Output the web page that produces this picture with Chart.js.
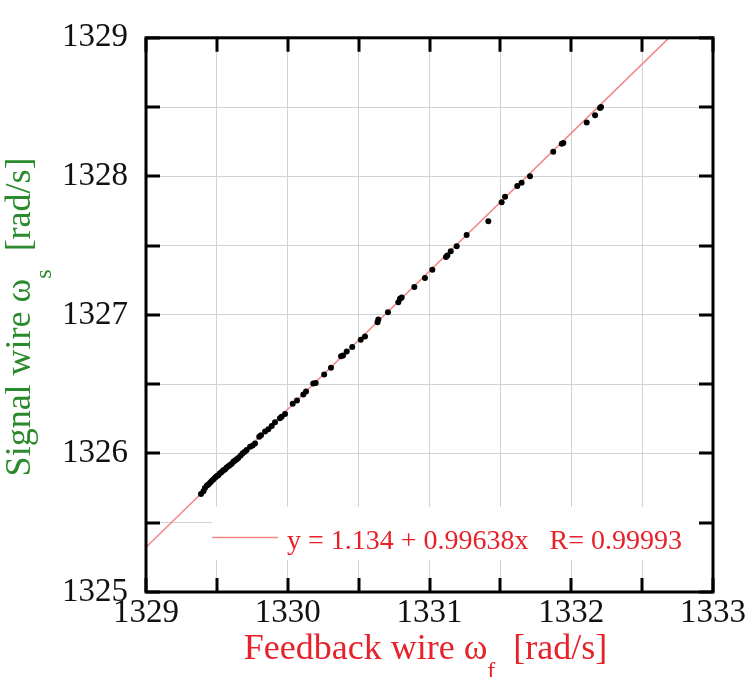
<!DOCTYPE html>
<html>
<head>
<meta charset="utf-8">
<script src="https://cdn.jsdelivr.net/npm/chart.js@4.4.1/dist/chart.umd.min.js"></script>
<style>
    html, body { margin: 0; padding: 0; background: #fff; }
    #wrap { width: 749px; height: 677px; }
</style>
</head>
<body>
<div id="wrap"><canvas id="myChart" width="749" height="677"></canvas></div>
<script>
// measured points: feedback wire (x) vs signal wire (y), rad/s
const feedbackW = [
    1329.388, 1329.405, 1329.416, 1329.430, 1329.440, 1329.452, 1329.463, 1329.475,
    1329.487, 1329.498, 1329.510, 1329.522, 1329.534, 1329.545, 1329.557, 1329.569,
    1329.581, 1329.593, 1329.605, 1329.616, 1329.628, 1329.640, 1329.651, 1329.668,
    1329.682, 1329.697, 1329.710, 1329.734, 1329.752, 1329.769, 1329.799, 1329.811,
    1329.840, 1329.863, 1329.887, 1329.910, 1329.945, 1329.957, 1329.981, 1330.035,
    1330.065, 1330.110, 1330.129, 1330.180, 1330.197, 1330.257, 1330.305, 1330.376,
    1330.390, 1330.416, 1330.455, 1330.515, 1330.545, 1330.633, 1330.639, 1330.707,
    1330.780, 1330.792, 1330.804, 1330.893, 1330.968, 1331.020, 1331.116, 1331.126,
    1331.150, 1331.192, 1331.262, 1331.415, 1331.509, 1331.533, 1331.619, 1331.650,
    1331.709, 1331.873, 1331.933, 1331.944, 1332.109, 1332.168, 1332.203, 1332.210
];
const signalW = [
    1325.708, 1325.728, 1325.750, 1325.768, 1325.776, 1325.789, 1325.802, 1325.812,
    1325.825, 1325.836, 1325.842, 1325.857, 1325.866, 1325.879, 1325.884, 1325.899,
    1325.908, 1325.917, 1325.926, 1325.940, 1325.949, 1325.958, 1325.967, 1325.985,
    1326.002, 1326.012, 1326.025, 1326.049, 1326.058, 1326.072, 1326.120, 1326.131,
    1326.159, 1326.175, 1326.198, 1326.225, 1326.254, 1326.265, 1326.284, 1326.359,
    1326.383, 1326.425, 1326.448, 1326.505, 1326.508, 1326.569, 1326.619, 1326.702,
    1326.707, 1326.735, 1326.769, 1326.820, 1326.845, 1326.947, 1326.966, 1327.020,
    1327.092, 1327.116, 1327.126, 1327.201, 1327.267, 1327.326, 1327.417, 1327.429,
    1327.460, 1327.495, 1327.577, 1327.676, 1327.813, 1327.852, 1327.930, 1327.954,
    1328.000, 1328.177, 1328.236, 1328.240, 1328.388, 1328.441, 1328.494, 1328.501
];
const xLimits = [1329, 1333];
const yLimits = [1325, 1329];
const tickStep = 0.5;
const fitIntercept = 1.134;
const fitSlope = 0.99638;
const fitText = "y = 1.134 + 0.99638x   R= 0.99993";

const SERIF = "'Liberation Serif', 'Times New Roman', serif";
const RED = "#e62129";
const GREEN = "#2b8a2b";
const FIT_COLOR = "rgb(242, 135, 135)";

var fitLine = xLimits.map(v => ({ x: v, y: fitIntercept + fitSlope * v }));
var points = feedbackW.map((v, i) => ({ x: v, y: signalW[i] }));

// draws text pieces in a row, some of them lowered as subscripts
function drawParts(ctx, parts, cx, baseY) {
    let total = 0;
    for (let p of parts) {
        ctx.font = p.size + "px " + SERIF;
        p.w = ctx.measureText(p.text).width;
        total += p.w;
    }
    let x = cx - total / 2;
    for (let p of parts) {
        ctx.font = p.size + "px " + SERIF;
        ctx.fillText(p.text, x, baseY + (p.dy || 0));
        x += p.w;
    }
}

const framePlugin = {
    id: "frame",
    beforeDatasetsDraw(chart) {
        const { ctx, chartArea: a } = chart;
        ctx.save();
        // legend box sits over the grid
        ctx.fillStyle = "#fff";
        ctx.fillRect(a.left + 66, a.bottom - 85, 488, 53);
        ctx.strokeStyle = FIT_COLOR;
        ctx.lineWidth = 1.6;
        ctx.beginPath();
        ctx.moveTo(a.left + 66, a.bottom - 54.5);
        ctx.lineTo(a.left + 132, a.bottom - 54.5);
        ctx.stroke();
        ctx.fillStyle = RED;
        ctx.font = "28px " + SERIF;
        ctx.textAlign = "left";
        ctx.textBaseline = "alphabetic";
        ctx.fillText(fitText, a.left + 141, a.bottom - 43);
        ctx.restore();
    },
    afterDatasetsDraw(chart) {
        const { ctx, chartArea: a, scales } = chart;
        const tl = 14;
        ctx.save();
        ctx.strokeStyle = "#000";
        ctx.lineWidth = 3;
        ctx.beginPath();
        for (let t of scales.x.ticks) {
            let px = Math.round(scales.x.getPixelForValue(t.value));
            ctx.moveTo(px, a.bottom); ctx.lineTo(px, a.bottom - tl);
            ctx.moveTo(px, a.top); ctx.lineTo(px, a.top + tl);
        }
        for (let t of scales.y.ticks) {
            let py = Math.round(scales.y.getPixelForValue(t.value));
            ctx.moveTo(a.left, py); ctx.lineTo(a.left + tl, py);
            ctx.moveTo(a.right, py); ctx.lineTo(a.right - tl, py);
        }
        ctx.stroke();
        ctx.strokeRect(a.left, a.top, a.right - a.left, a.bottom - a.top);
        ctx.restore();
    },
    afterDraw(chart) {
        const { ctx, chartArea: a } = chart;
        ctx.save();
        ctx.textAlign = "left";
        ctx.textBaseline = "alphabetic";
        ctx.fillStyle = RED;
        drawParts(ctx, [
            { text: "Feedback wire \u03C9", size: 36 },
            { text: "f", size: 24, dy: 19 },
            { text: "  [rad/s]", size: 36 }
        ], (a.left + a.right) / 2 - 4, 659);
        ctx.fillStyle = GREEN;
        ctx.translate(30, (a.top + a.bottom) / 2 + 2);
        ctx.rotate(-Math.PI / 2);
        drawParts(ctx, [
            { text: "Signal wire \u03C9", size: 36 },
            { text: "s", size: 24, dy: 21 },
            { text: "  [rad/s]", size: 36 }
        ], 0, 0);
        ctx.restore();
    }
};

new Chart(document.getElementById("myChart"), {
    type: "scatter",
    data: {
        datasets: [
            {
                data: points,
                backgroundColor: "#000",
                borderColor: "#000",
                pointRadius: 3,
                pointBorderWidth: 0,
                showLine: false,
                order: 1
            },
            {
                data: fitLine,
                showLine: true,
                borderColor: FIT_COLOR,
                backgroundColor: FIT_COLOR,
                borderWidth: 1.6,
                pointRadius: 0,
                fill: false,
                order: 2
            }
        ]
    },
    options: {
        responsive: false,
        animation: false,
        layout: { padding: { top: 25, right: 36, left: 0, bottom: 0 } },
        plugins: {
            legend: { display: false },
            tooltip: { enabled: false }
        },
        scales: {
            x: {
                type: "linear",
                min: xLimits[0],
                max: xLimits[1],
                afterFit: (s) => { s.height = 85; },
                border: { display: false },
                grid: { color: "#d2d2d2", lineWidth: 1, drawTicks: false },
                ticks: {
                    stepSize: tickStep,
                    padding: 2,
                    color: "#111",
                    font: { family: SERIF, size: 33 },
                    maxRotation: 0,
                    callback: (v) => Number.isInteger(v) ? String(v) : ""
                }
            },
            y: {
                type: "linear",
                min: yLimits[0],
                max: yLimits[1],
                afterFit: (s) => { s.width = 146; },
                border: { display: false },
                grid: { color: "#d2d2d2", lineWidth: 1, drawTicks: false },
                ticks: {
                    stepSize: tickStep,
                    padding: 18,
                    color: "#111",
                    font: { family: SERIF, size: 33 },
                    callback: (v) => Number.isInteger(v) ? String(v) : ""
                }
            }
        }
    },
    plugins: [framePlugin]
});
</script>
</body>
</html>
